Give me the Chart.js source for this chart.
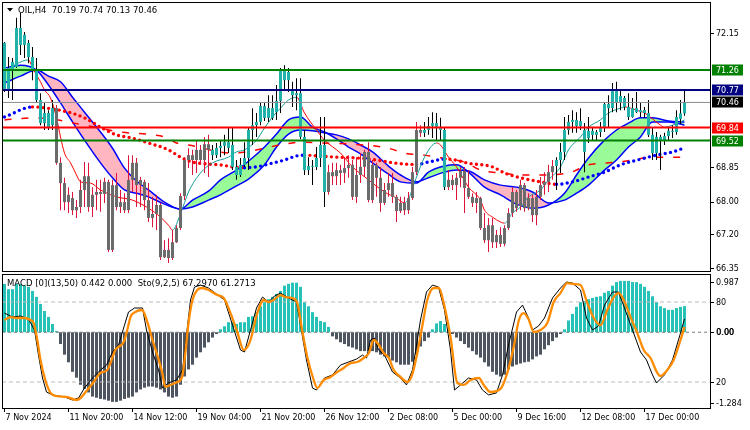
<!DOCTYPE html>
<html><head><meta charset="utf-8">
<script src="https://cdn.jsdelivr.net/npm/chart.js@4.4.1/dist/chart.umd.min.js"></script>
<style>
html,body{margin:0;padding:0;background:#fff;}
#wrap{position:relative;width:750px;height:430px;overflow:hidden;background:#fff}
#main{position:absolute;left:0;top:0}
#sub{position:absolute;left:0;top:273px}
</style></head><body>
<div id="wrap"><canvas id="main" width="750" height="273"></canvas><canvas id="sub" width="750" height="157"></canvas></div>
<script>
// ---------------- DATA ----------------
const symbolTitle = 'OIL,H4';
const lastOHLC = ['70.19', '70.74', '70.13', '70.46'];

const opens = [71.93,70.77,71.26,71.34,72.30,71.88,71.93,71.58,71.26,70.52,
 69.95,70.20,69.90,70.32,68.97,68.47,68.00,68.10,67.80,67.88,
 68.30,68.64,67.88,68.18,68.25,68.20,68.50,66.82,68.42,67.88,
 68.00,67.80,68.55,68.97,68.42,68.50,68.05,67.61,67.71,67.93,
 66.64,66.82,66.62,67.01,67.36,68.15,69.04,69.16,69.04,69.29,
 69.04,69.43,69.29,69.16,69.34,69.39,69.48,69.41,68.87,68.67,
 68.92,69.09,69.78,69.90,69.98,70.37,70.08,70.32,70.22,70.50,
 71.26,71.01,70.77,70.64,70.69,69.61,68.79,68.89,68.87,69.09,
 69.41,68.25,68.74,68.64,68.79,68.72,68.84,68.92,68.13,68.67,
 68.87,69.24,68.05,68.92,68.60,67.98,68.30,68.47,68.13,67.78,
 67.98,67.80,68.10,68.74,69.78,69.71,69.78,69.88,69.95,69.83,
 69.78,68.37,68.55,68.42,68.60,68.77,68.35,68.13,67.98,68.10,
 67.36,67.06,67.43,67.01,67.19,66.97,67.36,67.73,68.25,67.90,
 68.42,67.85,68.10,67.68,68.13,68.42,68.50,68.74,68.89,69.04,
 69.24,69.78,69.98,70.03,69.88,69.78,69.58,69.76,69.66,69.73,
 69.83,70.42,70.32,70.74,70.47,70.57,70.35,70.10,70.32,70.22,
 70.27,70.20,69.66,69.21,69.61,69.53,69.63,69.76,69.73,70.05,
 70.19];
const highs = [71.95,71.58,71.56,72.55,72.67,72.20,72.00,71.83,71.56,70.69,
 70.45,70.27,70.52,70.40,69.11,68.60,68.37,68.25,68.05,68.55,
 68.99,68.97,68.37,68.55,68.55,68.60,68.55,68.55,68.72,68.30,
 68.22,69.16,69.16,69.09,68.62,68.55,68.47,68.13,68.18,67.98,
 67.06,67.11,67.31,67.43,68.22,69.11,69.33,69.29,69.53,69.41,
 69.61,69.66,69.41,69.46,69.53,69.66,69.85,69.83,69.04,69.09,
 69.48,69.83,70.32,70.20,70.45,70.45,70.64,70.64,70.89,71.31,
 71.38,71.31,70.97,71.06,71.06,69.78,69.11,69.04,69.36,70.10,
 70.10,68.92,68.97,68.97,68.92,69.09,69.16,69.04,69.11,69.21,
 69.29,69.48,69.04,68.97,68.87,68.47,68.72,68.72,68.18,68.13,
 68.13,68.25,68.87,69.98,69.90,69.98,70.10,70.22,70.20,70.08,
 69.85,68.79,68.67,68.72,68.87,68.87,68.79,68.22,68.25,68.13,
 67.73,67.61,67.61,67.31,67.38,67.43,67.85,68.37,68.30,68.55,
 68.47,68.22,68.18,68.30,68.62,68.74,68.92,69.04,69.11,69.46,
 70.10,70.15,70.27,70.22,70.32,69.95,70.10,69.85,69.78,69.98,
 70.47,70.64,70.94,70.97,70.77,70.62,70.69,70.57,70.72,70.45,
 70.35,70.52,69.85,69.73,69.66,69.71,69.83,69.90,70.27,70.52,
 70.74];
const lows = [70.72,70.57,70.52,71.31,71.63,71.56,71.43,71.01,70.47,69.90,
 69.78,69.78,69.78,68.92,67.80,67.80,67.73,67.68,67.61,67.73,
 67.88,67.76,67.63,67.80,67.76,67.98,66.77,66.77,67.80,67.73,
 67.73,67.73,68.25,67.88,67.88,67.80,67.51,67.38,67.31,66.57,
 66.62,66.50,66.57,66.99,67.31,68.05,68.84,68.67,68.72,68.92,
 68.72,68.62,69.04,69.09,69.11,69.16,69.21,68.79,68.55,68.62,
 68.87,68.79,69.41,69.61,69.90,70.00,69.98,70.03,70.03,70.20,
 70.77,70.72,70.35,70.27,69.56,68.67,68.67,68.42,68.79,68.87,
 67.88,68.18,68.42,68.42,68.42,68.47,68.60,68.05,67.98,68.47,
 68.62,68.00,67.98,68.13,67.76,67.93,68.13,67.98,67.51,67.73,
 67.68,67.71,68.05,68.67,69.61,69.61,69.66,69.58,69.53,69.53,
 68.30,68.30,68.30,68.05,68.37,67.73,68.08,67.88,67.73,67.31,
 66.99,66.77,66.87,66.87,66.89,66.91,67.31,67.63,67.76,67.80,
 67.76,67.80,67.51,67.43,68.05,68.18,68.25,68.55,68.30,68.72,
 69.04,69.66,69.71,69.71,69.78,68.74,69.46,69.53,69.53,69.61,
 69.73,69.85,70.22,70.22,70.27,70.27,70.03,70.08,70.20,70.10,
 70.08,69.61,69.04,69.04,68.79,69.41,69.53,69.58,69.66,69.93,
 70.13];
const closes = [70.77,71.31,71.46,72.30,71.88,72.13,71.58,71.26,70.52,69.95,
 70.20,69.83,70.32,68.97,68.47,68.00,68.18,67.80,67.88,68.30,
 68.64,67.88,68.18,68.25,68.20,68.50,66.82,68.42,67.88,68.00,
 67.80,68.55,68.97,68.42,68.55,68.05,67.61,67.71,67.93,66.64,
 66.82,66.62,67.01,67.36,68.15,69.04,69.16,69.04,69.29,69.04,
 69.43,69.29,69.16,69.34,69.39,69.48,69.34,68.87,68.67,68.92,
 69.09,69.78,69.90,69.98,70.37,70.08,70.32,70.08,70.50,71.26,
 71.01,71.21,70.64,70.69,69.61,68.79,68.89,68.87,69.09,69.41,
 68.25,68.74,68.64,68.79,68.72,68.84,68.92,68.13,68.67,68.87,
 69.24,68.05,68.92,68.60,67.98,68.30,68.47,68.13,67.78,67.98,
 67.80,68.10,68.74,69.78,69.71,69.78,69.88,69.95,69.83,69.78,
 68.37,68.55,68.42,68.60,68.77,68.35,68.13,67.98,68.10,67.36,
 67.06,67.43,67.01,67.19,66.97,67.36,67.73,68.25,67.85,68.42,
 67.85,68.10,67.68,68.13,68.42,68.50,68.74,68.89,69.04,69.24,
 69.78,69.98,70.03,69.88,70.00,69.24,69.76,69.66,69.73,69.83,
 70.42,70.32,70.74,70.47,70.62,70.35,70.10,70.32,70.22,70.27,
 70.20,69.66,69.21,69.61,69.53,69.63,69.76,69.73,70.10,70.19,
 70.46];

// bar-index ranges painted in the "up" colour
const bullRuns = [[0, 12], [52, 80], [105, 110], [138, 170]];

// ribbon lines [barIndex, price]
const bandFast = [[0,71.31],[4,71.38],[8,71.26],[11,70.89],[14,70.45],[17,69.98],[20,69.53],[24,68.97],[27,68.60],[30,68.30],[33,68.22],[36,68.13],[40,67.95],[44,67.83],[47,68.05],[51,68.27],[54,68.55],[58,68.79],[61,69.01],[65,69.36],[68,69.68],[71,70.03],[74,70.10],[77,69.85],[80,69.73],[83,69.56],[86,69.36],[89,69.19],[92,68.97],[96,68.69],[99,68.50],[103,68.47],[106,68.74],[110,68.89],[113,68.92],[116,68.74],[120,68.37],[124,68.18],[128,67.95],[132,67.85],[136,67.93],[140,68.22],[143,68.67],[146,69.09],[150,69.53],[153,69.78],[156,69.95],[159,70.08],[162,70.08],[166,70.00],[170,69.98]];
const bandSlow = [[0,70.94],[4,71.11],[8,71.26],[11,71.11],[14,70.97],[17,70.59],[20,70.22],[24,69.73],[27,69.33],[30,68.84],[33,68.52],[36,68.30],[40,68.00],[44,67.83],[47,67.88],[51,68.05],[54,68.18],[58,68.40],[61,68.57],[65,68.92],[68,69.36],[71,69.68],[74,69.78],[77,69.76],[80,69.71],[83,69.66],[86,69.56],[89,69.41],[92,69.24],[96,68.89],[99,68.67],[103,68.50],[106,68.60],[110,68.74],[113,68.79],[116,68.77],[120,68.55],[124,68.42],[128,68.37],[132,68.25],[136,67.98],[140,68.05],[143,68.22],[146,68.42],[150,68.79],[153,69.04],[156,69.36],[159,69.61],[162,69.98],[166,69.98],[170,69.90]];
// slow trend average (dotted)
const trendMA = [[0,70.10],[7,70.35],[9,70.34],[16,70.22],[20,70.08],[24,69.85],[28,69.66],[32,69.58],[36,69.46],[41,69.29],[44,69.11],[47,68.99],[51,68.94],[54,68.92],[57,68.87],[60,68.85],[63,68.87],[66,68.94],[70,69.04],[73,69.14],[75,69.16],[77,69.15],[83,69.11],[88,69.09],[93,69.04],[98,68.96],[103,68.93],[106,68.99],[110,69.06],[112,69.05],[116,68.96],[122,68.87],[125,68.72],[129,68.60],[134,68.50],[138,68.44],[142,68.50],[146,68.62],[150,68.74],[154,68.92],[159,69.06],[163,69.16],[167,69.24],[170,69.34]];
// dashed average
const dashMA = [[0,70.03],[8,70.08],[20,69.90],[29,69.73],[37,69.66],[41,69.58],[43,69.46],[46,69.41],[57,69.21],[69,69.41],[74,69.48],[79,69.46],[90,69.41],[96,69.33],[100,69.21],[105,69.16],[111,69.06],[115,68.99],[119,68.79],[124,68.72],[129,68.67],[133,68.67],[141,68.72],[146,68.92],[151,68.97],[155,69.01],[160,69.09],[164,69.11],[169,69.11]];
// fast average (thin)
const fastLine = [[0,71.21],[3,71.41],[6,71.51],[7,71.31],[9,70.97],[10,70.77],[11.5,70.57],[13,70.08],[14,69.61],[15,69.21],[16.5,68.97],[18,68.67],[19,68.50],[21.5,68.47],[24,68.30],[28,68.13],[32,68.05],[36,67.85],[39,67.63],[41,67.43],[42,67.31],[44,67.71],[46,68.25],[49,68.72],[52,68.97],[56,69.11],[58,69.24],[60,69.29],[63,69.53],[65,69.83],[67,70.10],[69,70.32],[71,70.52],[73,70.59],[75,70.20],[78,69.78],[80,69.53],[84,69.21],[87,68.87],[91,68.55],[95,68.25],[98,68.10],[100,67.98],[101,68.08],[103,68.62],[105,69.11],[108,69.46],[109,69.41],[111,69.11],[113,68.87],[116,68.37],[119,68.05],[120,67.80],[122,67.63],[124,67.51],[125,67.48],[127,67.73],[129,67.88],[131,68.13],[134,68.30],[136,68.55],[139,68.87],[141,69.29],[144,69.61],[146,69.85],[149,70.03],[151,70.20],[154,70.32],[155,70.35],[158,70.27],[160,70.20],[164,69.90],[165,69.85],[167,69.90],[169,69.98],[170,70.03]];

const levels = [71.26, 70.77, 70.46, 69.84, 69.52];
const priceTicks = [72.15, 68.85, 68.00, 67.20, 66.35];

const macdHist = [0.82,0.73,0.73,0.82,0.82,0.79,0.77,0.70,0.60,0.48,
 0.36,0.26,0.14,0.02,-0.20,-0.38,-0.51,-0.67,-0.77,-0.89,
 -0.96,-1.02,-1.09,-1.11,-1.13,-1.14,-1.16,-1.18,-1.18,-1.16,
 -1.13,-1.11,-1.09,-1.02,-0.97,-0.94,-0.92,-0.92,-0.94,-0.97,
 -1.02,-1.09,-1.11,-1.09,-0.89,-0.75,-0.63,-0.55,-0.43,-0.34,
 -0.26,-0.17,-0.09,-0.03,0.05,0.10,0.17,0.17,0.14,0.17,
 0.17,0.26,0.27,0.34,0.44,0.51,0.56,0.60,0.65,0.70,
 0.79,0.82,0.84,0.84,0.77,0.51,0.44,0.34,0.26,0.19,
 0.17,0.09,-0.07,-0.12,-0.17,-0.20,-0.24,-0.26,-0.29,-0.32,
 -0.32,-0.32,-0.32,-0.34,-0.38,-0.41,-0.43,-0.48,-0.51,-0.55,
 -0.55,-0.55,-0.50,-0.38,-0.24,-0.15,-0.09,0.05,0.15,0.19,
 0.14,0.05,-0.03,-0.09,-0.15,-0.20,-0.26,-0.32,-0.38,-0.43,
 -0.51,-0.58,-0.67,-0.72,-0.75,-0.72,-0.63,-0.58,-0.55,-0.53,
 -0.51,-0.50,-0.46,-0.41,-0.38,-0.29,-0.22,-0.15,-0.09,-0.03,
 0.05,0.20,0.31,0.43,0.51,0.53,0.56,0.58,0.60,0.61,
 0.67,0.70,0.79,0.85,0.87,0.87,0.87,0.85,0.85,0.82,
 0.77,0.70,0.61,0.51,0.44,0.41,0.38,0.38,0.41,0.43,
 0.442];
const macdMax = 0.987, macdMin = -1.284;

const stochMain = [[0,71.7],[2,68.7],[4,69.5],[6,67.2],[7.5,59.0],[8.5,40.2],[9.5,23.0],[10.5,12.5],[12,10.3],[15,8.8],[17,6.5],[18.5,8.0],[20,15.5],[22,23.0],[24,29.0],[25.5,32.7],[27,42.5],[28.5,47.7],[30,62.7],[31,72.5],[32.5,75.5],[34.5,75.5],[35.5,59.0],[37,42.5],[38.5,29.0],[39.5,15.5],[41,19.3],[43,21.5],[44.5,29.0],[45.5,55.2],[46.5,81.5],[47.5,91.2],[49,92.7],[51,90.5],[53,86.0],[55,81.5],[57,62.7],[59,44.0],[60,42.5],[61.5,59.0],[63,75.5],[64.5,83.7],[66,80.0],[67.5,84.5],[69,86.7],[71,83.0],[73,80.0],[74,62.7],[75.5,36.5],[77,15.5],[78,14.0],[80,23.0],[82,25.3],[84,32.7],[86,35.0],[88,37.2],[89.5,40.2],[90.5,38.0],[91.5,51.5],[92.5,53.0],[93.5,44.0],[95,40.2],[97,27.5],[99,23.0],[100.5,17.8],[102,29.0],[103,47.7],[104,66.5],[105.5,87.5],[107,92.7],[108.5,91.2],[110,74.0],[111.5,44.0],[112.5,14.0],[114,17.8],[116,23.0],[118,21.5],[119.5,14.0],[121,10.3],[123,11.8],[124.5,25.3],[126,47.7],[128,72.5],[129.5,77.7],[131,68.0],[132,59.0],[133.5,62.0],[135,68.0],[137,83.0],[139,90.5],[140.5,95.0],[142,94.2],[144,89.0],[145.5,68.0],[147,59.0],[148.5,62.0],[150,77.7],[152,87.5],[153.5,87.5],[155,75.5],[157,59.0],[159,42.5],[160.5,36.5],[162,25.3],[163,19.3],[165,25.3],[167,36.5],[169,56.7],[170,67.297]];
const stochSignal = [[0,66.5],[1.5,68.7],[3,68.0],[5,68.0],[6.5,66.5],[7.3,64.2],[8.2,51.5],[9,36.5],[10.2,21.5],[11.5,11.8],[13,9.5],[15.5,8.8],[18,6.5],[19,8.0],[20.7,14.0],[22.3,20.0],[24,26.8],[25.7,29.0],[26.5,34.2],[27.7,44.0],[29.8,50.0],[30.7,59.0],[31.5,68.7],[32.7,72.5],[34.4,74.0],[35.7,65.0],[37,51.5],[38.2,40.2],[39.4,27.5],[40.2,16.3],[41.5,17.8],[43.2,20.0],[44.4,23.8],[45.2,41.7],[46,64.2],[47,81.5],[48.2,89.0],[49.4,90.5],[51,89.0],[53.2,85.2],[54.8,83.0],[56.5,71.7],[58.2,57.5],[59.8,44.0],[60.7,46.2],[61.5,51.5],[63.2,71.7],[64.8,81.5],[66,80.0],[67.3,81.5],[69,85.2],[70.2,83.7],[71.9,83.0],[73.2,79.2],[74.4,59.0],[75.7,38.7],[77.3,21.5],[78.2,15.5],[79.8,21.5],[81.5,23.8],[83.2,27.5],[84.8,30.5],[86.5,34.2],[88.2,35.0],[89.8,38.0],[91.1,41.7],[92.3,51.5],[93.6,47.7],[94.8,41.7],[96.1,38.0],[97.3,29.0],[99,23.8],[100.7,20.0],[101.9,25.3],[103.2,41.7],[104.4,61.2],[105.7,81.5],[107.3,90.5],[108.6,90.5],[109.8,79.2],[111.5,53.7],[113.2,19.3],[114.8,17.8],[116.5,21.5],[118.6,23.0],[119.8,17.8],[121.5,12.5],[124,14.8],[125.7,26.8],[127.3,46.2],[128.6,66.5],[129.8,71.7],[131.1,66.5],[132.3,57.5],[134,59.0],[135.7,64.2],[137.3,80.0],[139,86.7],[140.7,94.2],[142.3,93.5],[144,92.7],[145.7,79.2],[147.3,68.0],[149,62.7],[150.7,74.0],[152.3,83.7],[153.6,86.7],[154.8,81.5],[156.5,68.7],[158.2,56.7],[159.8,44.0],[161.5,38.0],[163.2,26.8],[164,24.5],[165.7,29.0],[167.3,36.5],[169,51.5],[170,61.2713]];
const stochLevels = [80, 20];

const timeTicks = [0, 16, 32, 48, 64, 80, 96, 112, 128, 144, 160];
const timeLabels = ['7 Nov 2024', '11 Nov 20:00', '14 Nov 12:00', '19 Nov 04:00', '21 Nov 20:00', '26 Nov 12:00', '2 Dec 08:00', '5 Dec 00:00', '9 Dec 16:00', '12 Dec 08:00', '17 Dec 00:00'];
const macdText = 'MACD [0](13,50) 0.442 0.000';
const stochText = 'Sto(9,2,5) 67.2970 61.2713';

// ---------------- STYLE / BUILD ----------------
const FONT = '"DejaVu Sans", "Liberation Sans", sans-serif';
Chart.defaults.font.family = FONT;
Chart.defaults.font.size = 8;
Chart.defaults.color = '#000';

const XMIN = -0.625, XMAX = 176.375;
const P = arr => arr.map(([x, y]) => ({x, y}));
const idx = opens.map((_, i) => i);
const isBull = i => bullRuns.some(([a, b]) => i >= a && i <= b);
const levelStyle = [
  {line: '#008000', w: 2, box: '#008000'},
  {line: '#000080', w: 2, box: '#000080'},
  {line: '#8C8C8C', w: 1, box: '#000000'},
  {line: '#FF0000', w: 2, box: '#FF0000'},
  {line: '#008000', w: 2, box: '#008000'}
];

const mainDecor = {
  id: 'mainDecor',
  afterDraw(chart) {
    const {ctx, chartArea: a, scales: {y}} = chart;
    ctx.save();
    ctx.strokeStyle = '#000'; ctx.lineWidth = 1;
    ctx.strokeRect(a.left + 0.5, a.top - 0.5, a.right - a.left, a.bottom - a.top + 1);
    ctx.fillStyle = '#000';
    ctx.beginPath(); ctx.moveTo(7, 8); ctx.lineTo(13, 8); ctx.lineTo(10, 11.5); ctx.closePath(); ctx.fill();
    ctx.font = '8.5px ' + FONT; ctx.textBaseline = 'middle'; ctx.textAlign = 'left';
    ctx.fillText(symbolTitle + '  ' + lastOHLC.join(' '), 18, 10.5);
    ctx.font = '8px ' + FONT;
    levels.forEach((v, k) => {
      const py = Math.round(y.getPixelForValue(v));
      ctx.fillStyle = levelStyle[k].box;
      ctx.fillRect(a.right + 2, py - 5.5, 31, 11);
      ctx.fillStyle = '#fff';
      ctx.fillText(v.toFixed(2), a.right + 6, py + 0.5);
    });
    ctx.restore();
  }
};

new Chart(document.getElementById('main'), {
  type: 'bar',
  data: {
    datasets: [
      {type: 'line', data: P(bandSlow), borderColor: '#0000FF', borderWidth: 1.5, pointRadius: 0, cubicInterpolationMode: 'monotone', fill: false, order: 10},
      {type: 'line', data: P(bandFast), borderColor: '#0000FF', borderWidth: 1.5, pointRadius: 0, cubicInterpolationMode: 'monotone', fill: {target: 0, above: '#98FB98', below: '#FFB6C1'}, order: 9},
      {type: 'line', data: P(trendMA), borderColor: '#FF0000', borderWidth: 3.4, borderDash: [0, 5.4], borderCapStyle: 'round', pointRadius: 0, cubicInterpolationMode: 'monotone',
        segment: {borderColor: c => c.p1.parsed.y > c.p0.parsed.y ? '#0000FF' : '#FF0000'}, order: 8},
      {type: 'line', data: P(dashMA), borderColor: '#FF0000', borderWidth: 1.5, borderDash: [7, 10], pointRadius: 0, cubicInterpolationMode: 'monotone', order: 8},
      {type: 'line', data: P(fastLine), borderColor: '#FF0000', borderWidth: 1, pointRadius: 0, cubicInterpolationMode: 'monotone',
        segment: {borderColor: c => c.p1.parsed.y > c.p0.parsed.y ? '#129C96' : '#FF0000'}, order: 7},
      {type: 'bar', data: idx.map(i => ({x: i, y: [lows[i], highs[i]]})), backgroundColor: c => isBull(c.dataIndex) ? '#000000' : '#DC143C',
        barThickness: 1, grouped: false, inflateAmount: 0, order: 3},
      {type: 'bar', data: idx.map(i => ({x: i, y: [opens[i], closes[i]]})), backgroundColor: c => isBull(c.dataIndex) ? '#20B2AA' : '#6B6B6B',
        barThickness: 3, minBarLength: 1, grouped: false, inflateAmount: 0, order: 2},
      ...levels.map((v, k) => ({type: 'line', data: [{x: XMIN, y: v}, {x: XMAX, y: v}], borderColor: levelStyle[k].line, borderWidth: levelStyle[k].w, pointRadius: 0, order: 1}))
    ]
  },
  options: {
    responsive: false, animation: false, devicePixelRatio: 1,
    layout: {padding: {left: 2, top: 3, right: 0, bottom: 2}},
    plugins: {legend: {display: false}, tooltip: {enabled: false}, filler: {propagate: false, drawTime: 'beforeDatasetsDraw'}},
    scales: {
      x: {type: 'linear', min: XMIN, max: XMAX, offset: false, display: false},
      y: {type: 'linear', position: 'right', min: 66.30, max: 72.915,
        afterBuildTicks: s => { s.ticks = priceTicks.map(v => ({value: v})); },
        afterFit: s => { s.width = 40; s.paddingTop = 0; s.paddingBottom = 0; },
        ticks: {padding: 2, color: '#000', font: {size: 8}, callback: v => Number(v).toFixed(2)},
        grid: {drawOnChartArea: false, drawTicks: true, tickLength: 4, color: '#000'},
        border: {display: false}}
    }
  },
  plugins: [mainDecor]
});

const subDecor = {
  id: 'subDecor',
  afterDraw(chart) {
    const {ctx, chartArea: a, scales: {m, s}} = chart;
    ctx.save();
    ctx.strokeStyle = '#000'; ctx.lineWidth = 1;
    ctx.strokeRect(a.left + 0.5, a.top + 0.5, a.right - a.left, a.bottom - a.top);
    ctx.fillStyle = '#000'; ctx.textBaseline = 'middle'; ctx.textAlign = 'left';
    ctx.font = '8.5px ' + FONT;
    ctx.fillText(macdText + '  ' + stochText, 7, a.top + 9.5);
    ctx.font = '8px ' + FONT;
    const marks = [
      {y: a.top + 8, t: macdMax.toFixed(3)},
      {y: s.getPixelForValue(stochLevels[0]), t: String(stochLevels[0])},
      {y: m.getPixelForValue(0), t: '0.00', bold: true},
      {y: s.getPixelForValue(stochLevels[1]), t: String(stochLevels[1])},
      {y: a.bottom - 5, t: macdMin.toFixed(3)}
    ];
    marks.forEach(({y, t, bold}) => {
      const py = Math.round(y) + 0.5;
      ctx.beginPath(); ctx.moveTo(a.right, py); ctx.lineTo(a.right + 4, py); ctx.stroke();
      ctx.fillText(t, a.right + 6, py);
      if (bold) ctx.fillText(t, a.right + 6.5, py);
    });
    ctx.restore();
  }
};

new Chart(document.getElementById('sub'), {
  type: 'bar',
  data: {
    datasets: [
      {type: 'bar', yAxisID: 'm', data: idx.map(i => ({x: i, y: macdHist[i]})), backgroundColor: c => (c.raw && c.raw.y >= 0) ? '#27C2B7' : '#4D5561',
        barThickness: 3, grouped: false, inflateAmount: 0, order: 5},
      {type: 'line', yAxisID: 'm', data: [{x: XMIN, y: 0}, {x: XMAX, y: 0}], borderColor: '#7A7A7A', borderWidth: 1, borderDash: [3, 3], pointRadius: 0, order: 4},
      ...stochLevels.map(v => ({type: 'line', yAxisID: 's', data: [{x: XMIN, y: v}, {x: XMAX, y: v}], borderColor: '#BDBDBD', borderWidth: 1, borderDash: [4, 3], pointRadius: 0, order: 4})),
      {type: 'line', yAxisID: 's', data: P(stochMain), borderColor: '#000000', borderWidth: 1, pointRadius: 0, order: 2},
      {type: 'line', yAxisID: 's', data: P(stochSignal), borderColor: '#FF8C00', borderWidth: 2.3, pointRadius: 0, cubicInterpolationMode: 'monotone', order: 1}
    ]
  },
  options: {
    responsive: false, animation: false, devicePixelRatio: 1,
    layout: {padding: {left: 2, top: 1, right: 40, bottom: 0}},
    plugins: {legend: {display: false}, tooltip: {enabled: false}},
    scales: {
      x: {type: 'linear', min: XMIN, max: XMAX, offset: false, position: 'bottom',
        afterBuildTicks: s => { s.ticks = timeTicks.map(v => ({value: v})); },
        afterFit: s => { s.height = 22; s.paddingLeft = 0; s.paddingRight = 0; },
        ticks: {autoSkip: false, maxRotation: 0, minRotation: 0, align: 'start', labelOffset: 1, padding: 1, color: '#000', font: {size: 8},
          callback: (v, i) => timeLabels[i]},
        grid: {drawOnChartArea: false, drawTicks: true, tickLength: 4, color: '#000', offset: false},
        border: {display: false}},
      m: {type: 'linear', display: false, min: macdMin, max: macdMax},
      s: {type: 'linear', display: false, min: 0.5, max: 101}
    }
  },
  plugins: [subDecor]
});
</script></body></html>
